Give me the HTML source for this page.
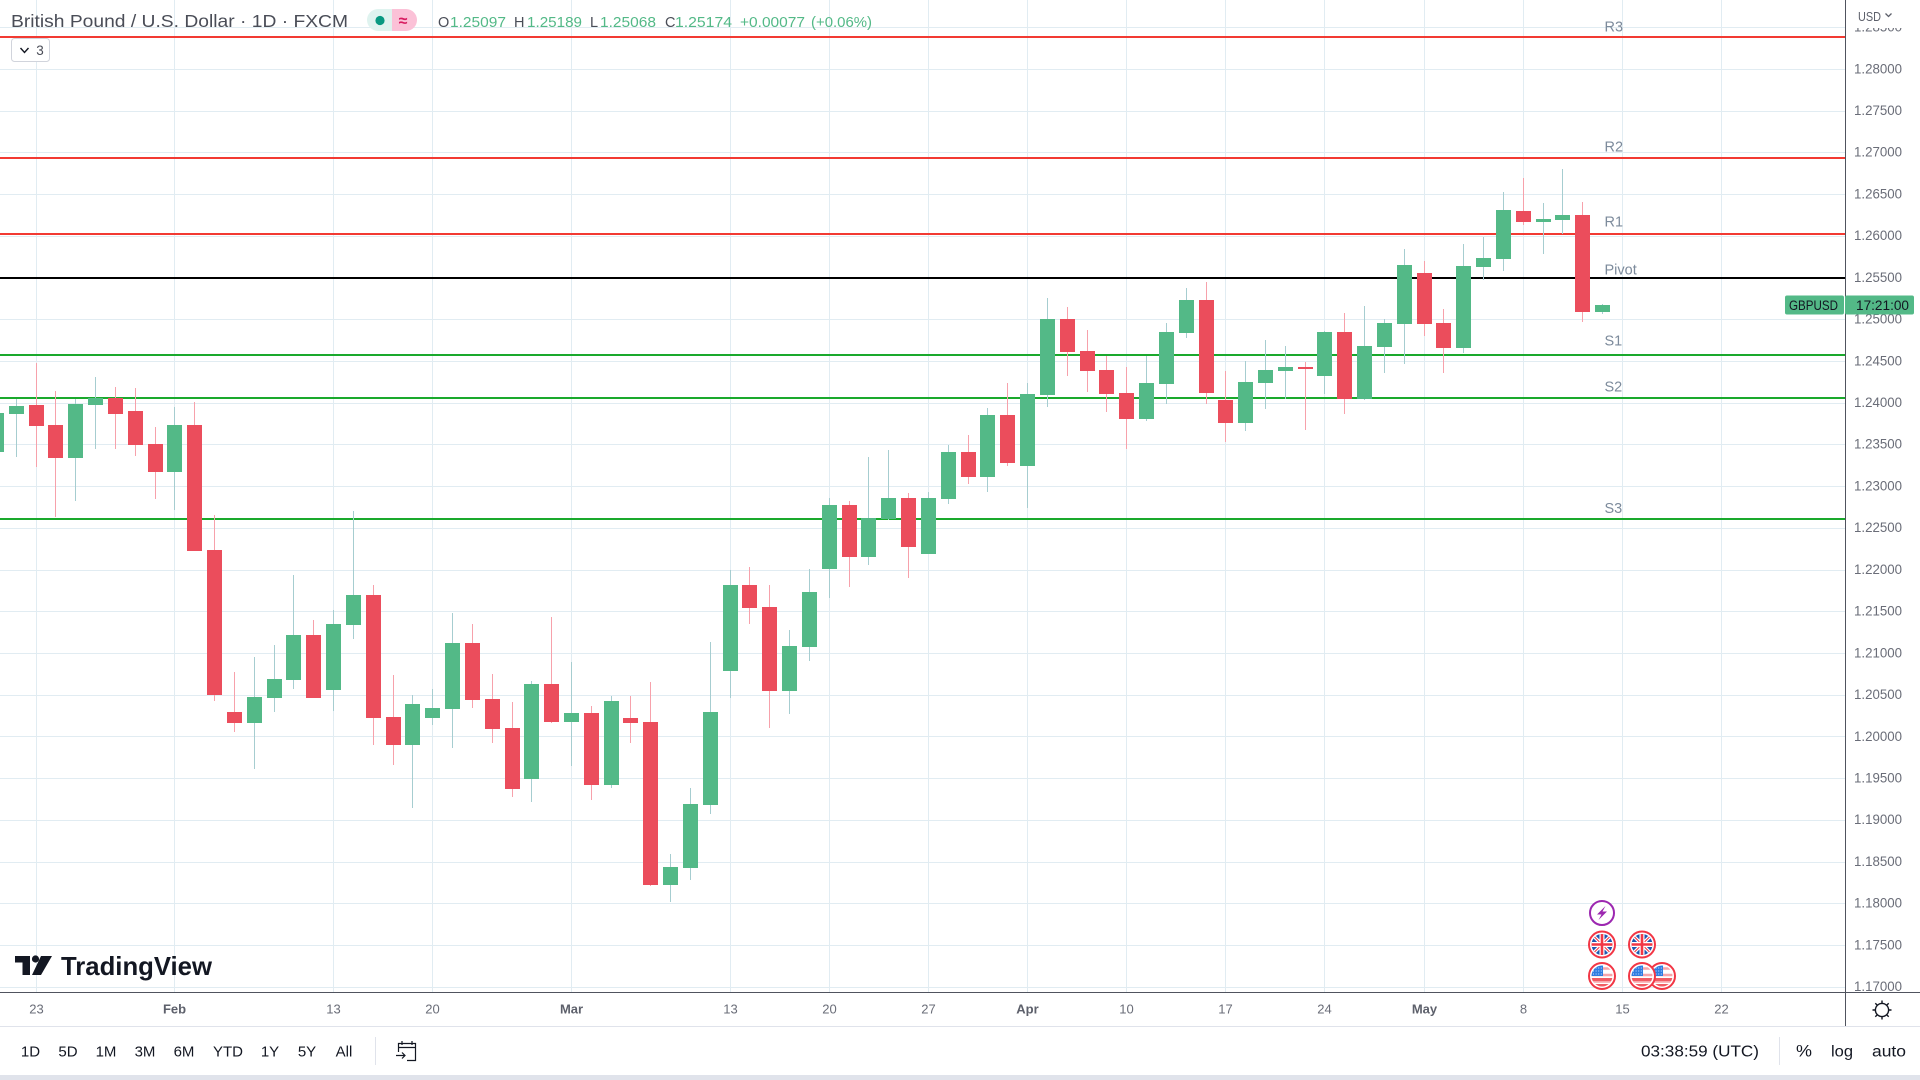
<!DOCTYPE html>
<html lang="en">
<head>
<meta charset="utf-8">
<title>British Pound / U.S. Dollar · 1D · FXCM</title>
<style>
html,body{margin:0;padding:0;background:#fff;width:1920px;height:1080px;overflow:hidden}
svg{display:block;font-family:"Liberation Sans",sans-serif}
</style>
</head>
<body>
<svg id="root" xmlns="http://www.w3.org/2000/svg" width="1920" height="1080" viewBox="0 0 1920 1080">
<defs>
<clipPath id="plot-clip"><rect x="0" y="0" width="1845" height="992"/></clipPath>
<clipPath id="axis-clip"><rect x="1846" y="0" width="74" height="992"/></clipPath>
<clipPath id="flag-clip"><circle cx="0" cy="0" r="10.5"/></clipPath>
<g id="uk-flag">
  <circle r="13" fill="#fff" stroke="#f23645" stroke-width="2"/>
  <g clip-path="url(#flag-clip)">
    <rect x="-11" y="-11" width="22" height="22" fill="#1f57b0"/>
    <path d="M-11 -11L11 11M11 -11L-11 11" stroke="#fff" stroke-width="3.4"/>
    <path d="M-11 -11L11 11M11 -11L-11 11" stroke="#f23645" stroke-width="1.1"/>
    <path d="M0 -11V11M-11 0H11" stroke="#fff" stroke-width="5"/>
    <path d="M0 -11V11M-11 0H11" stroke="#f23645" stroke-width="2.6"/>
  </g>
</g>
<g id="us-flag">
  <circle r="13" fill="#fff" stroke="#f23645" stroke-width="2"/>
  <g clip-path="url(#flag-clip)">
    <rect x="-11" y="-11" width="22" height="22" fill="#fff"/>
    <path d="M-11 -7.5H11M-11 -1H11M-11 5.5H11" stroke="#f7a5ab" stroke-width="2.6"/>
    <rect x="-11" y="8" width="22" height="4" fill="#f25b63"/>
    <rect x="-11" y="2" width="22" height="3" fill="#f25b63"/>
    <rect x="-11" y="-11" width="12" height="11" fill="#2f7de1"/>
    <path d="M-9 -8H0M-9 -5H0M-9 -2H0" stroke="#cfe2fb" stroke-width="1" stroke-dasharray="1 1.6"/>
  </g>
</g>
</defs>

<rect x="0" y="0" width="1920" height="1080" fill="#ffffff"/>
<g id="grid" clip-path="url(#plot-clip)" shape-rendering="crispEdges"></g>
<g id="pivots" clip-path="url(#plot-clip)" shape-rendering="crispEdges"></g>
<g id="candles" clip-path="url(#plot-clip)" shape-rendering="crispEdges"></g>
<g id="pivot-labels" clip-path="url(#plot-clip)"></g>

<g>
  <g transform="translate(1602 913)">
    <circle r="12" fill="#fff" stroke="#9c27b0" stroke-width="2"/>
    <path d="M3.5 -7L-5 1.5H-0.5L-3.5 7L5 -1.5H0.5Z" fill="#9c27b0"/>
  </g>
  <use href="#uk-flag" x="1602" y="944.5"/>
  <use href="#uk-flag" x="1642" y="944.5"/>
  <use href="#us-flag" x="1602" y="976"/>
  <use href="#us-flag" x="1662" y="976"/>
  <use href="#us-flag" x="1642" y="976"/>
</g>

<g>
  <path d="M15 956H30V975H22.5V962.5H15Z M41 956H52L41 975H32Z" fill="#131722"/>
  <circle cx="35.5" cy="959" r="3.6" fill="#131722"/>
  <text x="61" y="975" font-size="26" font-weight="bold" fill="#131722" textLength="151" lengthAdjust="spacingAndGlyphs">TradingView</text>
</g>

<g>
  <text x="11" y="27" font-size="17.5" fill="#4a4d57" textLength="337" lengthAdjust="spacingAndGlyphs">British Pound / U.S. Dollar · 1D · FXCM</text>
  <g>
    <path d="M392 9H378A11 11 0 0 0 378 31H392Z" fill="#dff3ef"/>
    <path d="M392 9H406A11 11 0 0 1 406 31H392Z" fill="#fbc1d7"/>
    <circle cx="380" cy="20.5" r="4.6" fill="#089981"/>
    <text x="403" y="26" font-size="16" font-weight="bold" fill="#d81b60" text-anchor="middle">≈</text>
  </g>
  <g font-size="14.5" fill="#53b987">
    <text x="438" y="27" fill="#4a4d57">O</text>
    <text x="450" y="27" textLength="56" lengthAdjust="spacingAndGlyphs">1.25097</text>
    <text x="514" y="27" fill="#4a4d57">H</text>
    <text x="527" y="27" textLength="55" lengthAdjust="spacingAndGlyphs">1.25189</text>
    <text x="590" y="27" fill="#4a4d57">L</text>
    <text x="600" y="27" textLength="56" lengthAdjust="spacingAndGlyphs">1.25068</text>
    <text x="665" y="27" fill="#4a4d57">C</text>
    <text x="675" y="27" textLength="57" lengthAdjust="spacingAndGlyphs">1.25174</text>
    <text x="740" y="27" textLength="65" lengthAdjust="spacingAndGlyphs">+0.00077</text>
    <text x="811" y="27" textLength="61" lengthAdjust="spacingAndGlyphs">(+0.06%)</text>
  </g>
  <g>
    <rect x="11.5" y="38.5" width="38" height="23" rx="3" fill="#fff" stroke="#d1d4dc"/>
    <path d="M20.5 48L24.5 52.5L28.5 48" fill="none" stroke="#131722" stroke-width="1.4"/>
    <text x="40" y="55" font-size="13.5" fill="#4a4d57" text-anchor="middle">3</text>
  </g>
</g>

<g id="price-ticks" clip-path="url(#axis-clip)"></g>
<rect x="1846" y="0" width="74" height="28" fill="#fff"/>
<g>
  <text x="1858" y="21" font-size="12.5" fill="#5d606b" textLength="23" lengthAdjust="spacingAndGlyphs">USD</text>
  <path d="M1885.5 13.5L1888.5 16.5L1891.5 13.5" fill="none" stroke="#5d606b" stroke-width="1.3"/>
</g>
<g id="time-ticks"></g>

<g shape-rendering="crispEdges">
  <rect x="1845" y="0" width="1" height="1026" fill="#50535e"/>
  <rect x="0" y="992" width="1920" height="1" fill="#50535e"/>
  <rect x="0" y="1026" width="1920" height="1" fill="#e0e3eb"/>
  <rect x="0" y="1075" width="1920" height="5" fill="#e0e3eb"/>
  <rect x="375" y="1037" width="1" height="28" fill="#e0e3eb"/>
  <rect x="1779" y="1037" width="1" height="28" fill="#e0e3eb"/>
</g>

<g id="last-price-tags"></g>

<g fill="none" stroke="#131722" stroke-width="1.4" transform="translate(1882 1010)">
  <circle r="6.6" fill="#fff"/>
  <path d="M0 -9.5V-6.6M0 6.6V9.5M-9.5 0H-6.6M6.6 0H9.5M-6.7 -6.7L-4.7 -4.7M4.7 4.7L6.7 6.7M-6.7 6.7L-4.7 4.7M4.7 -4.7L6.7 -6.7"/>
</g>

<g font-size="15" fill="#131722" text-anchor="middle">
  <text x="30.5" y="1056.5">1D</text>
  <text x="68" y="1056.5">5D</text>
  <text x="106" y="1056.5">1M</text>
  <text x="145" y="1056.5">3M</text>
  <text x="184" y="1056.5">6M</text>
  <text x="228" y="1056.5">YTD</text>
  <text x="270" y="1056.5">1Y</text>
  <text x="307" y="1056.5">5Y</text>
  <text x="344" y="1056.5">All</text>
</g>
<g fill="none" stroke="#131722" stroke-width="1.2" transform="translate(-1 -1)">
  <path d="M399.5 1053V1044.5H416.5V1061.5H408M399.5 1048.5H416.5M403 1042V1046M413 1042V1046M397 1056.5H406M403 1053.5L406 1056.5L403 1059.5"/>
</g>
<g font-size="15.5" fill="#131722">
  <text x="1641" y="1056.5" textLength="118" lengthAdjust="spacingAndGlyphs">03:38:59 (UTC)</text>
  <text x="1796" y="1056.5" font-size="17" textLength="16" lengthAdjust="spacingAndGlyphs">%</text>
  <text x="1831" y="1056.5" textLength="22" lengthAdjust="spacingAndGlyphs">log</text>
  <text x="1872" y="1056.5" textLength="34" lengthAdjust="spacingAndGlyphs">auto</text>
</g>

<script>
const opens = [1.23416,1.23871,1.23979,1.23739,1.23344,1.23979,1.24063,1.23907,1.23512,1.23176,1.23739,1.22241,1.20300,1.20168,1.20467,1.20683,1.21222,1.20563,1.21342,1.21702,1.20240,1.19904,1.20228,1.20336,1.21126,1.20456,1.20108,1.19497,1.20635,1.20180,1.20288,1.19425,1.20228,1.20180,1.18226,1.18430,1.19185,1.20791,1.21822,1.21558,1.20551,1.21079,1.22014,1.22781,1.22157,1.22613,1.22864,1.22193,1.22852,1.23416,1.23116,1.23859,1.23248,1.24099,1.25010,1.24626,1.24399,1.24123,1.23811,1.24231,1.24842,1.25238,1.24039,1.23763,1.24243,1.24387,1.24435,1.24327,1.24854,1.24051,1.24674,1.24950,1.25561,1.24962,1.24662,1.25633,1.25729,1.26304,1.26173,1.26197,1.26256,1.25097];
const highs = [1.23979,1.24051,1.24483,1.24147,1.24051,1.24315,1.24195,1.24183,1.23715,1.23955,1.24015,1.22661,1.20779,1.20959,1.21102,1.21942,1.21402,1.21522,1.22709,1.21822,1.20743,1.20503,1.20575,1.21486,1.21354,1.20755,1.20420,1.20671,1.21438,1.20899,1.20372,1.20491,1.20491,1.20659,1.18598,1.19389,1.21138,1.22002,1.22038,1.21822,1.21282,1.22014,1.22864,1.22829,1.23356,1.23440,1.22924,1.22936,1.23500,1.23620,1.23943,1.24243,1.24243,1.25262,1.25154,1.24878,1.24566,1.24435,1.24566,1.24962,1.25382,1.25453,1.24387,1.24507,1.24758,1.24686,1.24495,1.24866,1.25082,1.25166,1.25010,1.25849,1.25705,1.25130,1.25909,1.25993,1.26532,1.26700,1.26400,1.26808,1.26412,1.25189];
const lows = [1.23320,1.23356,1.23236,1.22637,1.22829,1.23452,1.23452,1.23368,1.22852,1.22721,1.22229,1.20432,1.20060,1.19616,1.20300,1.20575,1.20467,1.20312,1.21174,1.19904,1.19664,1.19149,1.20144,1.19868,1.20348,1.19928,1.19281,1.19221,1.20168,1.19652,1.19245,1.19389,1.19928,1.18214,1.18023,1.18286,1.19077,1.20467,1.21354,1.20108,1.20276,1.20911,1.21666,1.21798,1.22062,1.22601,1.21906,1.22193,1.22793,1.23032,1.22936,1.23248,1.22745,1.23955,1.24327,1.24135,1.23895,1.23452,1.23787,1.23991,1.24782,1.23991,1.23536,1.23668,1.23931,1.24051,1.23680,1.24111,1.23871,1.24039,1.24363,1.24471,1.24806,1.24363,1.24602,1.25477,1.25585,1.26137,1.25789,1.26029,1.24974,1.25068];
const closes = [1.23883,1.23967,1.23727,1.23344,1.23991,1.24063,1.23871,1.23500,1.23176,1.23739,1.22229,1.20503,1.20168,1.20479,1.20695,1.21222,1.20467,1.21354,1.21702,1.20228,1.19904,1.20396,1.20348,1.21126,1.20444,1.20096,1.19377,1.20635,1.20180,1.20288,1.19425,1.20432,1.20168,1.18226,1.18442,1.19197,1.20300,1.21822,1.21546,1.20551,1.21091,1.21738,1.22781,1.22157,1.22625,1.22864,1.22277,1.22864,1.23416,1.23116,1.23859,1.23284,1.24111,1.25010,1.24614,1.24387,1.24111,1.23811,1.24243,1.24854,1.25238,1.24123,1.23763,1.24255,1.24399,1.24435,1.24411,1.24854,1.24051,1.24686,1.24962,1.25657,1.24950,1.24662,1.25645,1.25741,1.26316,1.26173,1.26209,1.26256,1.25094,1.25174];
const priceTickLabels = ["1.28500","1.28000","1.27500","1.27000","1.26500","1.26000","1.25500","1.25000","1.24500","1.24000","1.23500","1.23000","1.22500","1.22000","1.21500","1.21000","1.20500","1.20000","1.19500","1.19000","1.18500","1.18000","1.17500","1.17000"];
const timeTickLabels = ["23","Feb","13","20","Mar","13","20","27","Apr","10","17","24","May","8","15","22"];
const timeTickBars = [2,9,17,22,29,37,42,47,52,57,62,67,72,77,82,87];
const pivotNames = ["R3","R2","R1","Pivot","S1","S2","S3"];
const pivotValues = [1.28389,1.26943,1.26028,1.25505,1.24578,1.24063,1.22613];
const lastPrice = 1.25174;
const symbolTag = "GBPUSD";
const countdownTag = "17:21:00";

const SVG_NS = "http://www.w3.org/2000/svg";
const xAxis = i => Math.floor(-3.5 + 19.828 * i);
const yAxis = p => 987.3 - (p - 1.17) * 8344;
const labelLift = {R3:5.3, R2:6.3, R1:7.3, Pivot:3.3, S1:9.3, S2:6.3, S3:6};

function node(parent, tag, attrs, text) {
  const el = document.createElementNS(SVG_NS, tag);
  for (const k in attrs) el.setAttribute(k, attrs[k]);
  if (text !== undefined) el.textContent = text;
  parent.appendChild(el);
  return el;
}

const gridG = document.getElementById("grid");
priceTickLabels.forEach(label => {
  const el = node(gridG, "rect", {x:0, y:Math.floor(yAxis(parseFloat(label))), width:1845, height:1, fill:"#e1ecf2"});
  
  
});
timeTickBars.forEach(bar => {
  const el = node(gridG, "rect", {x:xAxis(bar), y:0, width:1, height:992, fill:"#e1ecf2"});
  
  
});

const pivotG = document.getElementById("pivots");
const pivotLabelG = document.getElementById("pivot-labels");
pivotNames.forEach((name, i) => {
  const y = Math.round(yAxis(pivotValues[i]));
  const color = name === "Pivot" ? "#000000" : (name[0] === "R" ? "#f23a32" : "#1aa92c");
  const line = node(pivotG, "rect", {x:0, y:y - 1, width:1845, height:2, fill:color});
  
  
  const label = node(pivotLabelG, "text", {x:1604.5, y:y - labelLift[name], "font-size":14.5, fill:"#7d8b9c"}, name);
  
  
});

const candleG = document.getElementById("candles");
opens.forEach((open, i) => {
  const close = closes[i];
  const up = close >= open;
  const cx = xAxis(i);
  const top = Math.round(yAxis(Math.max(open, close)));
  const bottom = Math.round(yAxis(Math.min(open, close)));
  const hi = Math.round(yAxis(highs[i]));
  const lo = Math.round(yAxis(lows[i]));
  const wick = node(candleG, "rect", {x:cx, y:hi, width:1, height:Math.max(1, lo - hi), fill:up ? "#a6cdd0" : "#f7a1ab"});
  
  
  const body = node(candleG, "rect", {x:cx - 7, y:top, width:15, height:Math.max(1, bottom - top), fill:up ? "#53b987" : "#eb4d5c"});
  
  
});

const priceG = document.getElementById("price-ticks");
priceTickLabels.forEach(label => {
  const el = node(priceG, "text", {x:1854, y:yAxis(parseFloat(label)) + 3.8, "font-size":13.4, fill:"#6a6d78", textLength:48, lengthAdjust:"spacingAndGlyphs"}, label);
  
  
});

const timeG = document.getElementById("time-ticks");
timeTickLabels.forEach((label, i) => {
  const isMonth = isNaN(parseInt(label, 10));
  const el = node(timeG, "text", {x:xAxis(timeTickBars[i]) + 0.5, y:1013.5, "font-size":13, "text-anchor":"middle", "font-weight":isMonth ? "bold" : "normal", fill:isMonth ? "#5d606b" : "#6a6d78"}, label);
  
  
});

const tagG = document.getElementById("last-price-tags");
const tagY = Math.round(yAxis(lastPrice));
const symbolRect = node(tagG, "rect", {x:1785, y:tagY - 9.5, width:59, height:19, rx:2, fill:"#53b987"});


const symbolText = node(tagG, "text", {x:1789, y:tagY + 5, "font-size":13.4, fill:"#131722", textLength:49, lengthAdjust:"spacingAndGlyphs"}, symbolTag);


const priceRect = node(tagG, "rect", {x:1845, y:tagY - 9.5, width:69, height:19, rx:2, fill:"#53b987"});


const priceText = node(tagG, "text", {x:1856, y:tagY + 5, "font-size":13.4, fill:"#131722", textLength:53, lengthAdjust:"spacingAndGlyphs"}, countdownTag);


</script>
</svg>
</body>
</html>
